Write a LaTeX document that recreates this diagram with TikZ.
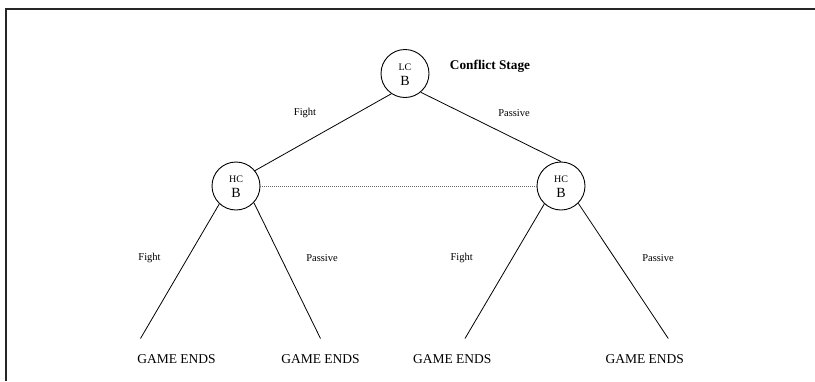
\documentclass[tikz,border=0pt]{standalone}
\usepackage{fontspec}
\setmainfont{Liberation Serif}
\begin{document}
\begin{tikzpicture}[x=1pt,y=-1pt,
  decision/.style={circle,draw,line width=0.9pt,minimum size=48pt,inner sep=0pt},
  rolelbl/.style={font=\fontsize{10}{12}\selectfont,inner sep=0pt},
  playerlbl/.style={font=\fontsize{14}{16}\selectfont,inner sep=0pt},
  branch/.style={line width=0.8pt},
  infoset/.style={draw=black!60,line width=0.8pt,dash pattern=on 0.8pt off 1.2pt},
  movelbl/.style={font=\fontsize{10.5}{12}\selectfont,inner sep=0pt},
  outcome/.style={font=\fontsize{13.5}{15}\selectfont,inner sep=0pt},
  stagelbl/.style={font=\fontsize{13.3}{15}\selectfont\bfseries,inner sep=0pt},
  frameline/.style={line width=1.3pt,draw=black!85}]
\useasboundingbox (0,0) rectangle (815,381);

% frame edges (top and left)
\draw[frameline] (6,381) -- (6,9) -- (815,9);

% decision nodes
\node[decision] (lc) at (405,73.5) {};
\node[rolelbl]   (lc-role) at ([yshift=6.5pt]lc.center) {LC};
\node[playerlbl] (lc-b)    at ([yshift=-7pt]lc.center) {B};

\node[decision] (hl) at (236,186) {};
\node[rolelbl]   (hl-role) at ([yshift=6.7pt]hl.center) {HC};
\node[playerlbl] (hl-b)    at ([yshift=-7.3pt]hl.center) {B};

\node[decision] (hr) at (561,186) {};
\node[rolelbl]   (hr-role) at ([yshift=6.7pt]hr.center) {HC};
\node[playerlbl] (hr-b)    at ([yshift=-7.3pt]hr.center) {B};

\node[stagelbl] (stage) at (490,66.7) {Conflict Stage};

% terminal outcomes
\coordinate (e1) at (140.5,338.5);
\coordinate (e2) at (320.5,338.5);
\coordinate (e3) at (465,338.5);
\coordinate (e4) at (668.3,338.5);
\node[outcome] (o1) at (176.5,359) {GAME ENDS};
\node[outcome] (o2) at (320.5,359) {GAME ENDS};
\node[outcome] (o3) at (452.3,359) {GAME ENDS};
\node[outcome] (o4) at (644.7,359) {GAME ENDS};

% branches
\draw[branch] (lc.236) -- (hl.39);
\draw[branch] (lc.-50) -- (hr.north);
\draw[infoset] (hl.east) -- (hr.west);
\draw[branch] (hl.-133.5) -- (e1);
\draw[branch] (hl.-43.5) -- (e2);
\draw[branch] (hr.-133.5) -- (e3);
\draw[branch] (hr.-45) -- (e4);

% move labels
\node[movelbl] (m1) at (305,113) {Fight};
\node[movelbl] (m2) at (514,113) {Passive};
\node[movelbl] (m3) at (149.5,257.7) {Fight};
\node[movelbl] (m4) at (322,257.7) {Passive};
\node[movelbl] (m5) at (461.7,257.7) {Fight};
\node[movelbl] (m6) at (658,257.7) {Passive};
\end{tikzpicture}
\end{document}
